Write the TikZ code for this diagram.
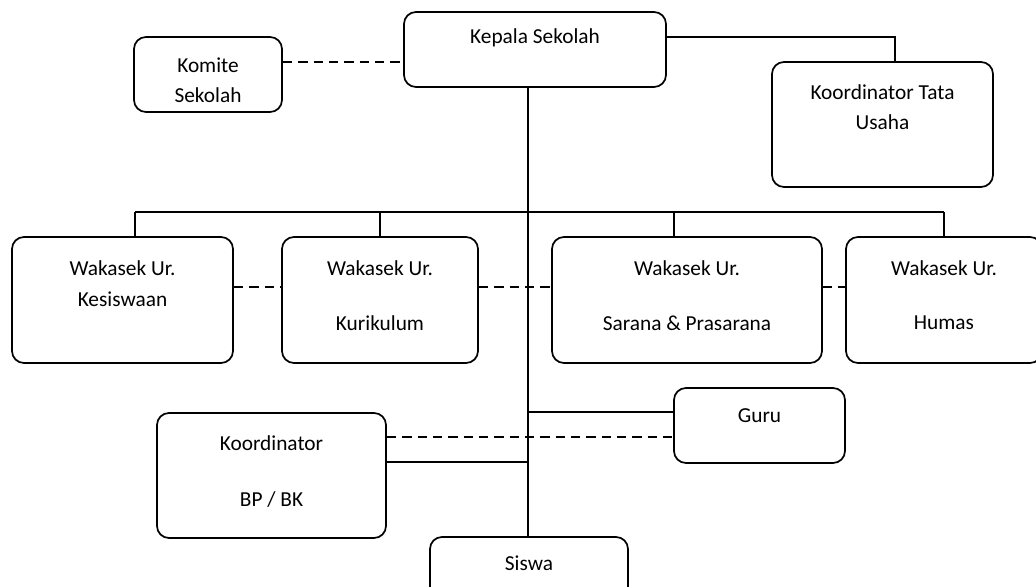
\documentclass[tikz,border=0pt]{standalone}
\usepackage{fontspec}
\setmainfont{Carlito}
\tikzset{
    kotak/.style={draw, rounded corners=9pt, line width=1.3pt, inner sep=0pt},
    teks/.style={inner sep=0pt, font=\fontsize{16}{19}\selectfont},
    garis/.style={line width=1.3pt},
    putus/.style={line width=1.3pt, dash pattern=on 7pt off 4.5pt}
}
\begin{document}
\begin{tikzpicture}[x=0.75pt, y=-0.75pt]
            \useasboundingbox (0,0) rectangle (1036,586);

            \node[kotak, minimum width=262*0.75pt, minimum height=75*0.75pt] (kepsek) at (535,49.5) {};
            \node[kotak, minimum width=148*0.75pt, minimum height=75*0.75pt] (komite) at (208,74.5) {};
            \node[kotak, minimum width=221*0.75pt, minimum height=125*0.75pt] (tu) at (882.5,124.5) {};
            \node[kotak, minimum width=221*0.75pt, minimum height=126*0.75pt] (kesiswaan) at (122.5,300) {};
            \node[kotak, minimum width=196*0.75pt, minimum height=126*0.75pt] (kurikulum) at (380,300) {};
            \node[kotak, minimum width=270*0.75pt, minimum height=126*0.75pt] (sarpras) at (687,300) {};
            \node[kotak, minimum width=196*0.75pt, minimum height=126*0.75pt] (humas) at (944,300) {};
            \node[kotak, minimum width=171*0.75pt, minimum height=75*0.75pt] (guru) at (759.5,425.5) {};
            \node[kotak, minimum width=229*0.75pt, minimum height=125*0.75pt] (bpbk) at (271.5,475.5) {};
            \node[kotak, minimum width=198*0.75pt, minimum height=75*0.75pt] (siswa) at (529,574.5) {};

            \node[teks] (t-kepsek) at (535,38) {Kepala Sekolah};
            \node[teks] (t-komite1) at (208,65) {Komite};
            \node[teks] (t-komite2) at (208,95) {Sekolah};
            \node[teks] (t-tu1) at (882.5,92) {Koordinator Tata};
            \node[teks] (t-tu2) at (882.5,122) {Usaha};
            \node[teks] (t-kes1) at (122.5,268) {Wakasek Ur.};
            \node[teks] (t-kes2) at (122.5,299) {Kesiswaan};
            \node[teks] (t-kur1) at (380,268) {Wakasek Ur.};
            \node[teks] (t-kur2) at (380,323) {Kurikulum};
            \node[teks] (t-sar1) at (687,268) {Wakasek Ur.};
            \node[teks] (t-sar2) at (687,323) {Sarana \& Prasarana};
            \node[teks] (t-hum1) at (944,268) {Wakasek Ur.};
            \node[teks] (t-hum2) at (944,323) {Humas};
            \node[teks] (t-guru) at (759.5,416) {Guru};
            \node[teks] (t-bp1) at (271.5,443) {Koordinator};
            \node[teks] (t-bp2) at (271.5,500) {BP / BK};
            \node[teks] (t-siswa) at (529,563) {Siswa};

            \coordinate (batang) at (528,212);
            \coordinate (tuatas) at (895,37);
            \coordinate (d1) at (0,62);
            \coordinate (d2) at (0,287);
            \coordinate (g1) at (0,412);
            \coordinate (d3) at (0,437);
            \coordinate (g2) at (0,462);

            \draw[putus] (komite.east |- d1) -- (kepsek.west |- d1);
            \draw[garis] (kepsek.east |- tuatas) -- (tuatas) -- (tuatas |- tu.north);
            \draw[garis] (batang |- kepsek.south) -- (batang |- siswa.north);
            \draw[garis] (135,212) -- (944,212);
            \foreach \nm/\bx in {kesiswaan/135, kurikulum/380, sarpras/674, humas/944} {
                \coordinate (c-\nm) at (\bx,212);
                \draw[garis] (c-\nm) -- (c-\nm |- \nm.north);
            }
            \draw[putus] (kesiswaan.east |- d2) -- (kurikulum.west |- d2);
            \draw[putus] (kurikulum.east |- d2) -- (sarpras.west |- d2);
            \draw[putus] (sarpras.east |- d2) -- (humas.west |- d2);
            \draw[garis] (batang |- g1) -- (guru.west |- g1);
            \draw[putus] (bpbk.east |- d3) -- (guru.west |- d3);
            \draw[garis] (bpbk.east |- g2) -- (batang |- g2);
        \end{tikzpicture}
\end{document}
